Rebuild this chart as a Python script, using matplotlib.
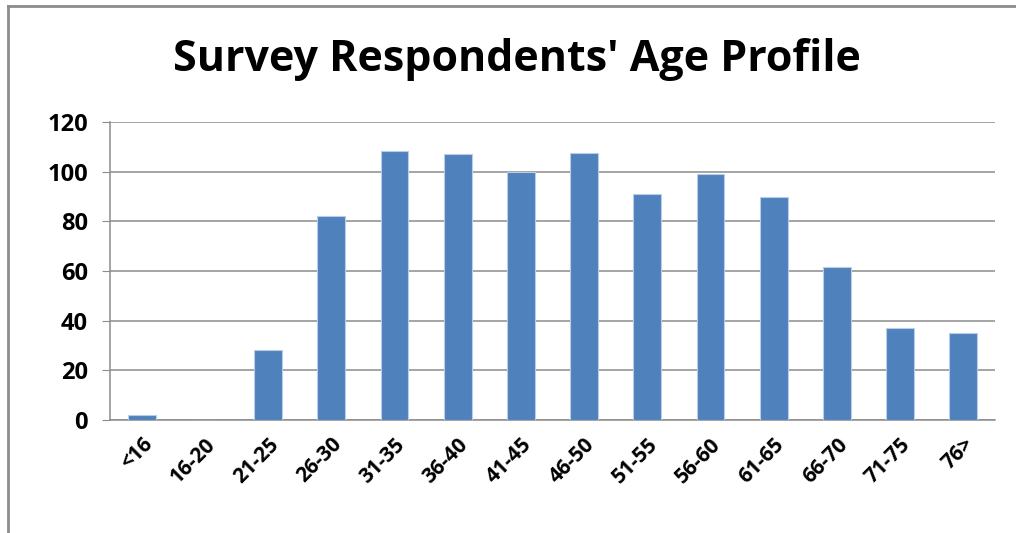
import numpy as np
import matplotlib.pyplot as plt

# Age groups and respondent counts
age_groups = ['<16', '16-20', '21-25', '26-30', '31-35', '36-40', '41-45',
              '46-50', '51-55', '56-60', '61-65', '66-70', '71-75', '76>']
counts = [2, 0, 28, 82, 108.5, 107, 100, 107.5, 91, 99, 90, 61.5, 37, 35]
y_ticks = [0, 20, 40, 60, 80, 100, 120]

plt.rcParams['font.family'] = ['Open Sans', 'DejaVu Sans']

fig = plt.figure(figsize=(10.16, 5.33), dpi=100)
ax = fig.add_axes([110 / 1016, 1 - 420 / 533, 885 / 1016, 298 / 533])

x = np.arange(len(age_groups))
ax.bar(x, counts, width=0.44, color='#4F81BD', edgecolor='#B9CDE5',
       linewidth=0.8, zorder=3)

ax.set_xlim(-0.5, len(age_groups) - 0.5)
ax.set_ylim(0, 120)
ax.set_yticks(y_ticks)
ax.set_yticklabels([str(v) for v in y_ticks], fontsize=17, fontweight='bold')
ax.set_xticks(x)
ax.set_xticklabels(age_groups, rotation=45, ha='right', rotation_mode='anchor',
                   fontsize=15, fontweight='bold')

ax.grid(axis='y', color='#8C8C8C', linewidth=1.1, zorder=0)
for s in ['top', 'right']:
    ax.spines[s].set_visible(False)
ax.spines['left'].set_color('#8C8C8C')
ax.spines['bottom'].set_color('#8C8C8C')
ax.spines['left'].set_linewidth(1.1)
ax.spines['bottom'].set_linewidth(1.1)
ax.tick_params(axis='y', length=6, color='#8C8C8C', pad=10)
ax.tick_params(axis='x', length=0, pad=10)

fig.text(0.509, 0.888, "Survey Respondents' Age Profile", ha='center',
         va='center', fontsize=31, fontweight='bold')

# chart frame (left and top edges visible in the source)
fig.add_artist(plt.Line2D([8 / 1016, 8 / 1016], [0, 1 - 6 / 533],
                          transform=fig.transFigure, color='#8C8C8C', linewidth=2))
fig.add_artist(plt.Line2D([8 / 1016, 1], [1 - 6 / 533, 1 - 6 / 533],
                          transform=fig.transFigure, color='#8C8C8C', linewidth=2))

fig.savefig('out.png', dpi=100)
